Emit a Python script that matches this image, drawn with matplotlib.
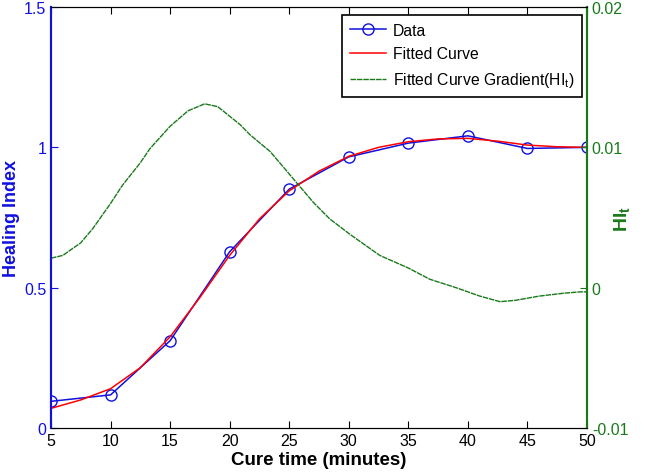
import matplotlib
matplotlib.use('Agg')
import matplotlib.pyplot as plt

plt.rcParams['font.family'] = ['Liberation Sans', 'DejaVu Sans']
plt.rcParams['mathtext.fontset'] = 'custom'
plt.rcParams['mathtext.rm'] = 'Liberation Sans'
plt.rcParams['mathtext.bf'] = 'Liberation Sans:bold'
plt.rcParams['mathtext.it'] = 'Liberation Sans:italic'

# Measured data (healing index vs cure time)
cure_time = [5, 10, 15, 20, 25, 30, 35, 40, 45, 50]
healing_index = [0.095, 0.118, 0.311, 0.628, 0.851, 0.966, 1.015, 1.041, 0.996, 1.0]

# Fitted curve
fit_time = [5, 7.5, 10, 12.5, 15, 17.5, 20, 22.5, 25, 27.5, 30, 32.5, 35, 37.5,
            40, 42.5, 45, 47.5, 50]
fit_hi = [0.070, 0.100, 0.140, 0.215, 0.325, 0.465, 0.615, 0.745, 0.845, 0.915,
          0.968, 1.000, 1.020, 1.030, 1.032, 1.022, 1.008, 1.002, 1.000]

# Gradient of fitted curve (right axis)
grad_time = [5, 6, 7.5, 8.5, 10, 11, 12.5, 13.3, 15, 16.5, 17.9, 19, 20.9, 21.7,
             23.4, 25.1, 27, 28.4, 30.1, 32.6, 35, 36.8, 39, 41, 42.7, 44, 46,
             48, 49.4, 50]
grad_hi = [0.0021, 0.0023, 0.0032, 0.0042, 0.0060, 0.0073, 0.0089, 0.0099,
           0.0115, 0.0126, 0.0131, 0.0129, 0.0116, 0.0109, 0.0097, 0.0080,
           0.0061, 0.0049, 0.0038, 0.0023, 0.0014, 0.0006, 0.0000, -0.0006,
           -0.0010, -0.0009, -0.0006, -0.0004, -0.0003, -0.0003]

blue = '#1010e0'
green = '#1a7a1a'

fig = plt.figure(figsize=(6.46, 4.77), dpi=100)
ax = fig.add_axes([51 / 646, 48 / 477, 536 / 646, 421 / 477])
ax2 = ax.twinx()

l1, = ax.plot(cure_time, healing_index, color=blue, marker='o', markersize=8,
              markerfacecolor='none', markeredgecolor=blue, lw=1.1, label='Data')
l2, = ax.plot(fit_time, fit_hi, color='red', lw=1.1, label='Fitted Curve')
l3, = ax2.plot(grad_time, grad_hi, color=green, lw=1.0, dashes=(4, 0.6),
               label=r'Fitted Curve Gradient(HI$_{\rm t}$)')

ax.set_xlim(5, 50)
ax.set_ylim(0, 1.5)
ax2.set_ylim(-0.01, 0.02)
ax.set_xticks(range(5, 51, 5))
ax.set_yticks([0, 0.5, 1, 1.5])
ax.set_yticklabels(['0', '0.5', '1', '1.5'])
ax2.set_yticks([-0.01, 0, 0.01, 0.02])
ax2.set_yticklabels(['-0.01', '0', '0.01', '0.02'])

ax.tick_params(axis='x', direction='in', top=True, length=5, labelsize=11.5,
               colors='black')
ax.tick_params(axis='y', direction='in', length=5, labelsize=11.5,
               colors=blue, right=False)
ax2.tick_params(axis='y', direction='in', length=5, labelsize=11.5, colors=green)

for a in (ax, ax2):
    a.spines['left'].set_color(blue)
    a.spines['right'].set_color(green)
    a.spines['left'].set_linewidth(1.5)
    a.spines['right'].set_linewidth(1.5)

ax.set_xlabel('Cure time (minutes)', fontsize=13.5, fontweight='bold', labelpad=2)
ax.set_ylabel('Healing Index', fontsize=13, fontweight='bold', color=blue)
ax.yaxis.set_label_coords(-0.058, 0.5)
ax2.set_ylabel(r'$\mathbf{HI_t}$', fontsize=14, color=green)
ax2.yaxis.set_label_coords(1.047, 0.5)

leg = ax2.legend(handles=[l1, l2, l3], loc='upper right',
                 bbox_to_anchor=(582 / 646, 461 / 477),
                 bbox_transform=fig.transFigure, fancybox=False,
                 edgecolor='black', framealpha=1, fontsize=11.3,
                 handlelength=2.3, handletextpad=0.4, borderaxespad=0,
                 borderpad=0.5, labelspacing=0.55)
leg.get_frame().set_linewidth(1.2)

fig.savefig('out.png', dpi=100)
